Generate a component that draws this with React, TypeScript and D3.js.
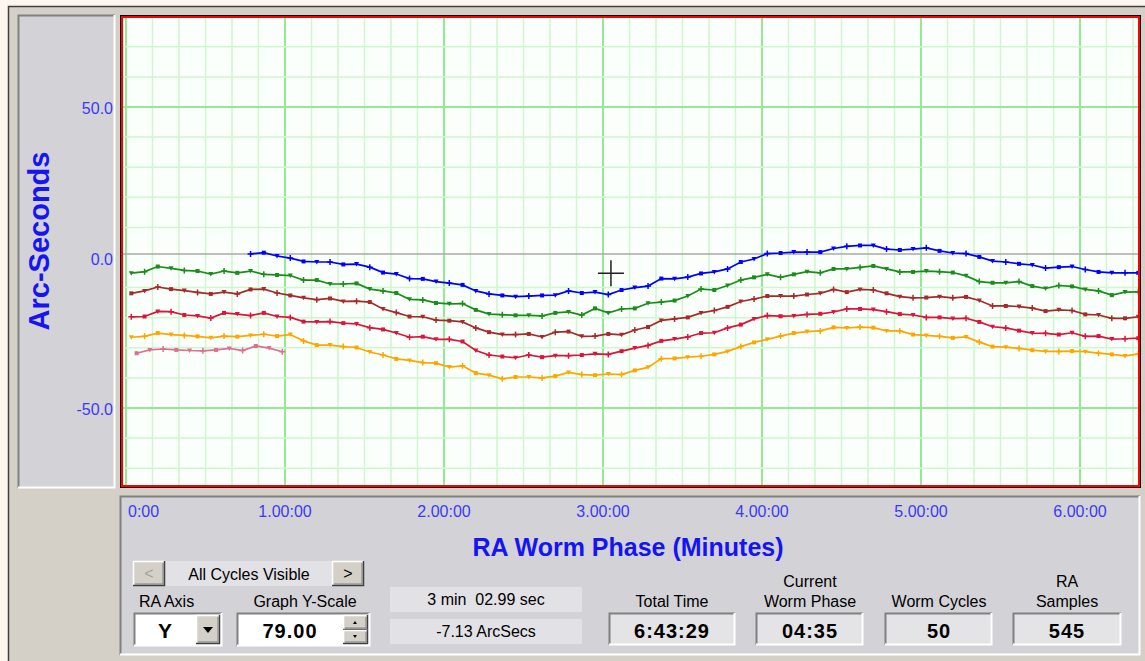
import React from "react";
import * as d3 from "d3";

// ---------------- data ----------------
const STEP = 5; // seconds between samples
const greenStart = 2;
const greenValues = [-5.2, -4.7, -3.0, -3.6, -4.3, -4.5, -5.5, -4.5, -5.1, -4.5, -5.6, -5.8, -6.0, -7.5, -7.5, -8.8, -8.8, -8.6, -10.5, -11.1, -11.8, -13.9, -14.1, -15.1, -15.4, -15.3, -17.4, -18.8, -19.0, -19.2, -19.2, -19.4, -18.4, -18.1, -19.1, -16.9, -18.4, -17.1, -16.9, -15.2, -14.8, -14.3, -12.8, -10.5, -10.8, -9.3, -7.5, -6.6, -5.6, -6.6, -5.6, -4.7, -5.1, -3.8, -3.8, -3.3, -2.8, -3.8, -4.8, -4.8, -4.5, -4.7, -5.0, -6.1, -8.0, -8.4, -8.4, -8.0, -9.5, -10.3, -9.3, -9.6, -10.6, -11.1, -12.5, -11.5, -11.4];
const blueStart = 47;
const blueValues = [1.2, 1.6, 0.5, -0.2, -1.3, -1.5, -1.5, -2.3, -2.2, -3.2, -5.0, -5.5, -7.0, -7.1, -8.0, -8.5, -9.1, -11.1, -12.1, -12.6, -13.0, -12.8, -12.6, -12.5, -11.1, -11.8, -11.5, -12.3, -10.8, -10.0, -9.5, -7.0, -7.1, -6.5, -5.3, -4.8, -3.8, -1.5, -0.5, 1.3, 1.5, 1.8, 1.8, 1.8, 3.0, 3.7, 4.0, 4.0, 2.8, 2.5, 2.8, 3.2, 2.2, 1.5, 1.3, 0.2, -1.2, -1.5, -2.1, -2.5, -3.5, -3.2, -3.0, -4.0, -4.8, -5.1, -5.1, -5.1];
const brownStart = 2;
const brownValues = [-11.9, -11.1, -9.8, -10.5, -11.0, -11.6, -12.1, -11.5, -12.1, -10.6, -10.5, -11.8, -12.6, -13.4, -14.0, -13.6, -14.6, -14.5, -14.8, -17.1, -18.3, -19.6, -19.7, -20.8, -21.0, -21.4, -23.4, -24.8, -25.6, -25.6, -25.4, -26.4, -24.8, -24.6, -26.2, -26.1, -25.4, -25.7, -24.1, -23.1, -20.9, -20.4, -19.9, -18.4, -17.6, -16.4, -14.6, -13.8, -12.8, -12.8, -12.8, -12.3, -11.9, -10.6, -11.5, -10.6, -10.8, -11.9, -13.0, -13.4, -13.3, -13.0, -13.4, -13.1, -14.3, -16.1, -16.1, -16.3, -16.8, -17.8, -17.4, -17.6, -18.9, -19.1, -20.2, -20.2, -19.7];
const crimsonStart = 2;
const crimsonValues = [-19.7, -19.6, -17.9, -18.0, -19.1, -19.4, -20.1, -18.4, -18.8, -19.3, -18.4, -19.6, -19.9, -21.3, -21.4, -21.3, -21.8, -22.1, -23.3, -23.9, -25.1, -26.5, -26.3, -27.2, -27.2, -27.9, -30.9, -32.4, -32.9, -33.3, -32.4, -33.1, -32.6, -32.6, -32.4, -32.0, -32.2, -31.1, -30.1, -29.2, -27.7, -27.1, -26.4, -25.1, -25.0, -23.4, -22.3, -20.4, -19.3, -19.5, -19.4, -18.9, -18.7, -18.1, -17.1, -17.1, -17.3, -18.0, -18.8, -19.1, -19.9, -19.9, -20.3, -20.2, -21.4, -23.0, -23.4, -24.3, -25.1, -25.2, -25.6, -25.0, -26.2, -26.1, -27.1, -27.0, -26.8];
const orangeStart = 2;
const orangeValues = [-26.5, -26.2, -25.1, -25.6, -25.9, -26.2, -26.7, -26.1, -26.3, -25.9, -25.5, -26.1, -25.6, -27.7, -29.1, -29.1, -29.6, -29.9, -31.4, -32.4, -33.7, -34.2, -34.9, -35.1, -36.4, -36.0, -38.4, -39.1, -40.3, -39.7, -39.7, -40.0, -39.4, -38.2, -38.9, -39.1, -38.7, -38.9, -37.5, -36.5, -33.6, -33.5, -33.1, -32.8, -32.2, -31.2, -29.6, -28.2, -27.2, -26.1, -25.1, -24.6, -24.4, -23.2, -23.4, -23.1, -23.3, -24.4, -24.4, -25.6, -25.9, -26.2, -26.7, -26.4, -28.1, -29.6, -29.8, -30.2, -30.8, -31.2, -31.2, -31.1, -31.3, -31.8, -32.2, -32.7, -32.1];
const pinkStart = 4;
const pinkValues = [-31.8, -30.7, -30.4, -30.7, -30.9, -31.0, -30.7, -30.2, -30.9, -29.4, -30.1, -31.3];

const seriesColors = ["#db7093", "#ffa500", "#dc143c", "#a52a2a", "#1a8c1a", "#0000ff"];
const seriesStarts = [pinkStart, orangeStart, crimsonStart, brownStart, greenStart, blueStart];
const seriesValues = [pinkValues, orangeValues, crimsonValues, brownValues, greenValues, blueValues];

const xTickMinutes = [0, 1, 2, 3, 4, 5, 6];
const xTickLabels = ["0:00", "1.00:00", "2.00:00", "3.00:00", "4.00:00", "5.00:00", "6.00:00"];
const yTickValues = [50, 0, -50];
const yTickLabels = ["50.0", "0.0", "-50.0"];
const cursorTime = 183; // seconds
const cursorValue = -5.2;

// ---------------- layout ----------------
const W = 1145;
const H = 661;
const FONT = "'Liberation Sans', Arial, sans-serif";
const PLOT = { left: 123, right: 1138, top: 18, bottom: 485 };

const x = d3.scaleLinear().domain([0, 360]).range([126, 1080]);
const y = d3.scaleLinear().domain([-50, 50]).range([408, 107]);

function Sunken({ x0, y0, w, h, fill }: { x0: number; y0: number; w: number; h: number; fill: string }) {
  return (
    <g>
      <rect x={x0} y={y0} width={w} height={h} fill={fill} />
      <path d={`M${x0 + 0.5},${y0 + h} V${y0 + 0.5} H${x0 + w}`} stroke="#808080" strokeWidth={2} fill="none" />
      <path d={`M${x0 + w - 0.5},${y0} V${y0 + h - 0.5} H${x0}`} stroke="#ffffff" strokeWidth={2} fill="none" />
    </g>
  );
}

function Raised({ x0, y0, w, h }: { x0: number; y0: number; w: number; h: number }) {
  return (
    <g>
      <rect x={x0} y={y0} width={w} height={h} fill="#d4d0c8" />
      <path d={`M${x0 + 0.5},${y0 + h} V${y0 + 0.5} H${x0 + w}`} stroke="#ffffff" strokeWidth={1.5} fill="none" />
      <path d={`M${x0 + w - 0.5},${y0} V${y0 + h - 0.5} H${x0}`} stroke="#404040" strokeWidth={1.5} fill="none" />
      <path d={`M${x0 + w - 2},${y0 + 2} V${y0 + h - 2} H${x0 + 2}`} stroke="#808080" strokeWidth={1} fill="none" />
    </g>
  );
}

function Marker({ cx, cy, i, color }: { cx: number; cy: number; i: number; color: string }) {
  const k = i % 3;
  if (k === 0) return <rect x={cx - 2} y={cy - 2} width={4} height={4} fill={color} />;
  if (k === 1) return <path d={`M${cx - 2.5},${cy - 2} L${cx + 2.5},${cy - 2} L${cx},${cy + 2.5} Z`} fill={color} />;
  return <path d={`M${cx - 3},${cy} H${cx + 3} M${cx},${cy - 3} V${cy + 3}`} stroke={color} strokeWidth={1.5} />;
}

export default function App() {
  const line = d3
    .line<[number, number]>()
    .x((d) => x(d[0]))
    .y((d) => y(d[1]));

  const series = seriesValues.map((vals, si) =>
    vals.map((v, i) => [seriesStarts[si] + i * STEP, v] as [number, number])
  );

  const vGrid = d3.range(0, 390, 10);
  const hGrid = d3.range(-70, 90, 10).filter((v) => v !== 0);

  const boxes = [
    { cx: 672, x0: 609, w: 126, labels: ["Total Time"], value: "6:43:29" },
    { cx: 810, x0: 756, w: 107, labels: ["Current", "Worm Phase"], value: "04:35" },
    { cx: 939, x0: 885, w: 107, labels: ["Worm Cycles"], value: "50" },
    { cx: 1067, x0: 1013, w: 108, labels: ["RA", "Samples"], value: "545" },
  ];

  return (
    <svg
      width={W}
      height={H}
      style={{ position: "absolute", left: 0, top: 0, display: "block" }}
      fontFamily={FONT}
    >
      {/* window background */}
      <rect x={0} y={0} width={W} height={H} fill="#fdf6ee" />
      <rect x={8} y={6} width={W - 8} height={H - 6} fill="#d4d0c8" />
      <path d={`M8.5,${H} V6.5 H${W}`} stroke="#404040" strokeWidth={1.5} fill="none" />

      {/* y-axis panel */}
      <Sunken x0={18} y0={15} w={97} h={473} fill="#d3d2d7" />
      <text
        transform={`translate(49,241) rotate(-90)`}
        textAnchor="middle"
        fontSize={29}
        fontWeight="bold"
        fill="#1414f5"
      >
        Arc-Seconds
      </text>
      {yTickValues.map((v, i) => (
        <text key={v} x={113} y={y(v) + 7} textAnchor="end" fontSize={16} fill="#3a3af5">
          {yTickLabels[i]}
        </text>
      ))}

      {/* plot area */}
      <rect x={120} y={15} width={1021} height={473} fill="#000" />
      <rect x={121} y={16} width={1019} height={471} fill="#ff0000" />
      <rect x={PLOT.left} y={PLOT.top} width={PLOT.right - PLOT.left} height={PLOT.bottom - PLOT.top} fill="#fbfffb" />
      <defs>
        <clipPath id="plotclip">
          <rect x={PLOT.left} y={PLOT.top} width={PLOT.right - PLOT.left} height={PLOT.bottom - PLOT.top} />
        </clipPath>
      </defs>
      <g clipPath="url(#plotclip)">
        {vGrid.map((t) => (
          <line
            key={"v" + t}
            x1={x(t)}
            x2={x(t)}
            y1={PLOT.top}
            y2={PLOT.bottom}
            stroke={t % 60 === 0 ? "#94ea94" : "#cdf7cd"}
            strokeWidth={t % 60 === 0 ? 2 : 1.5}
          />
        ))}
        {hGrid.map((v) => (
          <line
            key={"h" + v}
            x1={PLOT.left}
            x2={PLOT.right}
            y1={y(v)}
            y2={y(v)}
            stroke={v % 50 === 0 ? "#94ea94" : "#cdf7cd"}
            strokeWidth={v % 50 === 0 ? 2 : 1.5}
          />
        ))}
        <line x1={PLOT.left} x2={PLOT.right} y1={y(0) - 3.5} y2={y(0) - 3.5} stroke="#a8a8a8" strokeWidth={1.5} />

        {series.map((pts, si) => (
          <g key={si}>
            <path d={line(pts) || ""} fill="none" stroke={seriesColors[si]} strokeWidth={1.7} />
            {pts.map((p, i) => (
              <Marker key={i} cx={x(p[0])} cy={y(p[1])} i={i + si} color={seriesColors[si]} />
            ))}
          </g>
        ))}

        {/* cursor */}
        <path
          d={`M${x(cursorTime) - 13},${y(cursorValue)} H${x(cursorTime) + 13} M${x(cursorTime)},${y(cursorValue) - 13} V${y(cursorValue) + 13}`}
          stroke="#202020"
          strokeWidth={1.5}
        />
      </g>

      {/* bottom panel */}
      <Sunken x0={120} y0={496} w={1020} h={159} fill="#d3d2d7" />
      {xTickMinutes.map((m, i) => (
        <text
          key={m}
          x={i === 0 ? x(0) + 2 : x(m * 60)}
          y={517}
          textAnchor={i === 0 ? "start" : "middle"}
          fontSize={16}
          fill="#3a3af5"
        >
          {xTickLabels[i]}
        </text>
      ))}
      <text x={628} y={556} textAnchor="middle" fontSize={25} fontWeight="bold" fill="#1414f5">
        RA Worm Phase (Minutes)
      </text>

      {/* cycle selector */}
      <rect x={165} y={561} width={167} height={25} fill="#e2e1e5" />
      <Raised x0={133} y0={561} w={32} h={25} />
      <text x={149} y={579} textAnchor="middle" fontSize={16} fill="#a0a0a0">
        &lt;
      </text>
      <Raised x0={332} y0={561} w={32} h={25} />
      <text x={348} y={579} textAnchor="middle" fontSize={16} fill="#000">
        &gt;
      </text>
      <text x={249} y={580} textAnchor="middle" fontSize={16} fill="#000">
        All Cycles Visible
      </text>

      {/* RA axis combo */}
      <text x={139} y={607} fontSize={16} fill="#000">
        RA Axis
      </text>
      <Sunken x0={134} y0={613} w={88} h={33} fill="#ffffff" />
      <text x={165} y={638} textAnchor="middle" fontSize={21} fontWeight="bold" fill="#000">
        Y
      </text>
      <Raised x0={196} y0={615} w={24} h={29} />
      <path d="M203,627 L213,627 L208,633 Z" fill="#000" />

      {/* Y scale spin */}
      <text x={305} y={607} textAnchor="middle" fontSize={16} fill="#000">
        Graph Y-Scale
      </text>
      <Sunken x0={237} y0={613} w={133} h={33} fill="#ffffff" />
      <text x={290} y={638} textAnchor="middle" fontSize={20} fontWeight="bold" fill="#000" letterSpacing={1}>
        79.00
      </text>
      <Raised x0={343} y0={615} w={25} h={15} />
      <Raised x0={343} y0={630} w={25} h={14} />
      <path d="M353,624 L357,624 L355,621 Z" fill="#000" />
      <path d="M353,635 L357,635 L355,638 Z" fill="#000" />

      {/* cursor readouts */}
      <rect x={390} y={587} width={192} height={25} fill="#e2e1e5" />
      <text x={486} y={605} textAnchor="middle" fontSize={16} fill="#000" style={{ whiteSpace: "pre" }}>
        {"3 min  02.99 sec"}
      </text>
      <rect x={390} y={619} width={192} height={25} fill="#e2e1e5" />
      <text x={486} y={637} textAnchor="middle" fontSize={16} fill="#000">
        -7.13 ArcSecs
      </text>

      {/* stat boxes */}
      {boxes.map((b) => (
        <g key={b.cx}>
          {b.labels.map((l, i) => (
            <text
              key={l}
              x={b.cx}
              y={607 - (b.labels.length - 1 - i) * 20}
              textAnchor="middle"
              fontSize={16}
              fill="#000"
            >
              {l}
            </text>
          ))}
          <Sunken x0={b.x0} y0={613} w={b.w} h={32} fill="#e4e4e6" />
          <text x={b.cx} y={638} textAnchor="middle" fontSize={20} fontWeight="bold" fill="#000" letterSpacing={1}>
            {b.value}
          </text>
        </g>
      ))}
    </svg>
  );
}
